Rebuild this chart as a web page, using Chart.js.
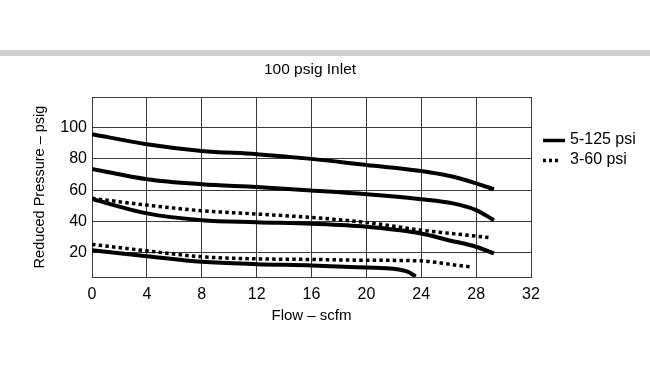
<!DOCTYPE html>
<html>
<head>
<meta charset="utf-8">
<script src="https://cdn.jsdelivr.net/npm/chart.js@4/dist/chart.umd.min.js"></script>
<style>
  html, body { margin: 0; padding: 0; background: #fff; }
  #wrap { width: 650px; height: 378px; position: relative; }
</style>
</head>
<body>
<div id="wrap"><canvas id="regChart" width="650" height="378"></canvas></div>
<script>
// 100 psig inlet, reduced pressure vs flow
var xTicks = [0, 4, 8, 12, 16, 20, 24, 28, 32];
var yTicks = [20, 40, 60, 80, 100];
var yMin = 4.6, yMax = 119.5;

// 5-125 psi range (solid)
var flowHi1 = [0, 4, 8, 12, 16, 20, 24, 26, 28, 29.3];
var presHi1 = [95.8, 89.4, 85.1, 83, 80, 76.1, 72.3, 69.2, 64.4, 60.6];
var flowHi2 = [0, 4, 8, 12, 16, 20, 24, 26.3, 28, 29.3];
var presHi2 = [73.6, 67, 63.8, 62, 59.8, 57.4, 54.2, 51.6, 47.3, 40.9];
var flowHi3 = [0, 4, 8, 12, 16, 20, 24, 26, 28, 29.3];
var presHi3 = [54.4, 45.2, 40.9, 39.6, 38.6, 36.7, 32.4, 28.1, 23.9, 19.6];
var flowHi4 = [0, 4, 8, 12, 16, 20, 22, 23, 23.6];
var presHi4 = [21.7, 17.9, 14.3, 12.8, 12, 10.6, 9.8, 8, 5];

// 3-60 psi range (dotted)
var flowLo1 = [0, 4, 8, 12, 16, 20, 24, 28, 28.9];
var presLo1 = [54.8, 50.5, 46.9, 44.8, 42.6, 39.4, 34.5, 30.7, 29.8];
var flowLo2 = [0, 4, 8, 12, 16, 20, 24, 25.4, 26.6, 27.7];
var presLo2 = [25.4, 21.3, 17.5, 16.2, 15.8, 15.3, 14.9, 13.6, 12.1, 11];

var sans = "'Liberation Sans', Arial, Helvetica, sans-serif";
var gridColor = '#3a3a3a';

function pts(xs, ys) {
  return xs.map(function (x, i) { return { x: x, y: ys[i] }; });
}

function solid(xs, ys) {
  return {
    data: pts(xs, ys),
    borderColor: '#000',
    borderWidth: 4,
    pointRadius: 0,
    fill: false,
    cubicInterpolationMode: 'monotone'
  };
}

function dotted(xs, ys) {
  return {
    data: pts(xs, ys),
    borderColor: '#000',
    borderWidth: 3.5,
    borderDash: [3.5, 3.2],
    borderCapStyle: 'butt',
    pointRadius: 0,
    fill: false,
    cubicInterpolationMode: 'monotone'
  };
}

var decor = {
  id: 'decor',
  beforeDraw: function (chart) {
    var ctx = chart.ctx;
    ctx.save();
    ctx.fillStyle = '#fff';
    ctx.fillRect(0, 0, chart.width, chart.height);
    ctx.fillStyle = '#cfcfcf';
    ctx.fillRect(0, 50, chart.width, 6);
    ctx.fillStyle = '#000';
    ctx.font = '15.5px ' + sans;
    ctx.textAlign = 'center';
    ctx.textBaseline = 'middle';
    ctx.fillText('100 psig Inlet', 310, 70);
    ctx.restore();
  },
  afterDraw: function (chart) {
    var ctx = chart.ctx;
    ctx.save();
    ctx.strokeStyle = '#000';
    ctx.lineWidth = 3.5;
    ctx.beginPath();
    ctx.moveTo(543, 140.5);
    ctx.lineTo(565, 140.5);
    ctx.stroke();
    ctx.setLineDash([3, 3]);
    ctx.beginPath();
    ctx.moveTo(543, 160.5);
    ctx.lineTo(560, 160.5);
    ctx.stroke();
    ctx.fillStyle = '#000';
    ctx.font = '16px ' + sans;
    ctx.textBaseline = 'middle';
    ctx.fillText('5-125 psi', 570, 140);
    ctx.fillText('3-60 psi', 570, 160);
    ctx.restore();
  }
};

var ctx = document.getElementById('regChart').getContext('2d');
var chart = new Chart(ctx, {
  type: 'line',
  data: {
    datasets: [
      solid(flowHi1, presHi1),
      solid(flowHi2, presHi2),
      solid(flowHi3, presHi3),
      solid(flowHi4, presHi4),
      dotted(flowLo1, presLo1),
      dotted(flowLo2, presLo2)
    ]
  },
  options: {
    responsive: false,
    animation: false,
    layout: { padding: { top: 97, right: 119, bottom: 0, left: 0 } },
    plugins: { legend: { display: false }, tooltip: { enabled: false } },
    scales: {
      x: {
        type: 'linear',
        min: 0,
        max: 32,
        afterBuildTicks: function (axis) {
          axis.ticks = xTicks.map(function (v) { return { value: v }; });
        },
        afterFit: function (axis) { axis.height = 101; },
        grid: { color: gridColor, lineWidth: 1, drawTicks: false },
        border: { color: gridColor, width: 1 },
        ticks: {
          color: '#000',
          padding: 8,
          maxRotation: 0,
          font: { family: sans, size: 16 }
        },
        title: {
          display: true,
          text: 'Flow – scfm',
          color: '#000',
          font: { family: sans, size: 15 },
          padding: { top: 0, bottom: 53 }
        }
      },
      y: {
        min: yMin,
        max: yMax,
        afterBuildTicks: function (axis) {
          var t = [yMin].concat(yTicks, [yMax]);
          axis.ticks = t.map(function (v) { return { value: v }; });
        },
        afterFit: function (axis) { axis.width = 92; },
        grid: { color: gridColor, lineWidth: 1, drawTicks: false },
        border: { color: gridColor, width: 1 },
        ticks: {
          color: '#000',
          padding: 5,
          font: { family: sans, size: 16 },
          callback: function (v) { return yTicks.indexOf(v) >= 0 ? v : ''; }
        },
        title: {
          display: true,
          text: 'Reduced Pressure – psig',
          color: '#000',
          font: { family: sans, size: 14.5 },
          padding: { top: 31, bottom: 0 }
        }
      }
    }
  },
  plugins: [decor]
});
</script>
</body>
</html>
